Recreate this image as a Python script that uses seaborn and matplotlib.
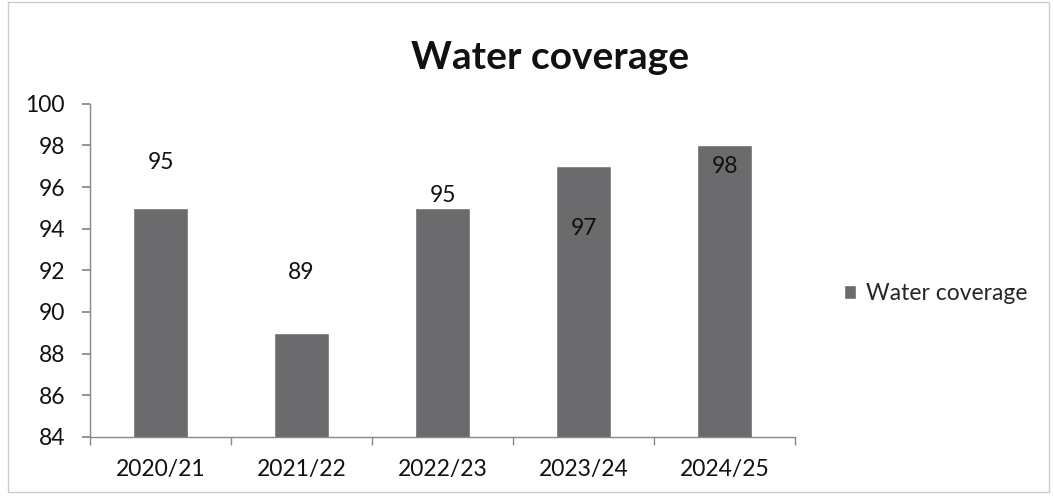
import matplotlib
matplotlib.use("Agg")
import matplotlib.pyplot as plt
import seaborn as sns
import pandas as pd
from matplotlib.patches import Rectangle

categories = ["2020/21", "2021/22", "2022/23", "2023/24", "2024/25"]
values = [95, 89, 95, 97, 98]
series_name = "Water coverage"
title = "Water coverage"
yticks = [84, 86, 88, 90, 92, 94, 96, 98, 100]

# label vertical offsets (styling, in data units)
label_offsets = [2.2, 2.9, 0.6, -3.0, -1.0]

sns.set_theme(style="white")
plt.rcParams['font.family'] = ['Lato', 'DejaVu Sans']

df = pd.DataFrame({"year": categories, "value": values, "series": series_name})

fs = 16.5
fig = plt.figure(figsize=(10.53, 4.97), dpi=100)
ax = fig.add_axes([0.0855, 0.121, 0.6695, 0.670])
bar_color = "#6b6b6d"
sns.barplot(data=df, x="year", y="value", hue="series", palette=[bar_color],
            width=0.39, ax=ax, saturation=1, legend=True)
ax.set_ylim(84, 100)
ax.set_yticks(yticks)
ax.set_yticklabels([str(t) for t in yticks], fontsize=fs, color="#111111")
ax.set_xticks(range(len(categories)))
ax.set_xticklabels(categories, fontsize=fs, color="#111111")
ax.set_xlabel("")
ax.set_ylabel("")
ax.set_xlim(-0.5, len(categories) - 0.5)

for s in ["top", "right"]:
    ax.spines[s].set_visible(False)
for s in ["left", "bottom"]:
    ax.spines[s].set_color("#888888")
    ax.spines[s].set_linewidth(1.0)

ax.tick_params(axis="y", which="both", left=True, length=6, color="#888888", pad=12)
ax.tick_params(axis="x", which="major", bottom=False, pad=10)
ax.set_xticks([i - 0.5 for i in range(len(categories) + 1)], minor=True)
ax.tick_params(axis="x", which="minor", bottom=True, length=6, color="#888888")

for i, (v, off) in enumerate(zip(values, label_offsets)):
    ax.text(i, v + off, str(v), ha="center", va="center", fontsize=fs, color="#111111")

fig.text(0.522, 0.885, title, ha="center", va="center", fontsize=28, fontweight="bold", color="#111111")

leg = ax.legend(loc="center left", bbox_to_anchor=(1.04, 0.43), frameon=False,
                fontsize=fs, handlelength=0.55, handleheight=0.55, handletextpad=0.4)

fig.patches.append(Rectangle((0.008, 0.01), 0.988, 0.985, transform=fig.transFigure,
                             fill=False, edgecolor="#cccccc", linewidth=1.0))

fig.savefig("out.png", dpi=100)
